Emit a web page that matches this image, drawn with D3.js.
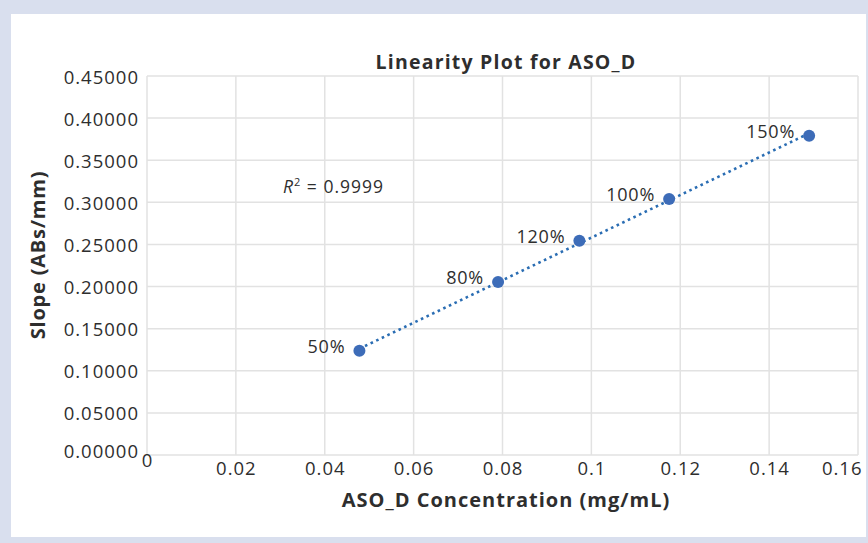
<!DOCTYPE html>
<html>
<head>
<meta charset="utf-8">
<script src="https://cdn.jsdelivr.net/npm/d3@7"></script>
<style>
  html, body { margin: 0; padding: 0; background: #d9dfee; }
  svg { display: block; }
</style>
</head>
<body>
<div id="chart"></div>
<script>
// data
const concentrations = [0.0478, 0.0790, 0.0973, 0.1175, 0.1490];
const slopes = [0.1238, 0.2054, 0.2545, 0.3040, 0.3791];
const pointLabels = ["50%", "80%", "120%", "100%", "150%"];
const xTicks = [0, 0.02, 0.04, 0.06, 0.08, 0.1, 0.12, 0.14, 0.16];
const yTicks = [0, 0.05, 0.1, 0.15, 0.2, 0.25, 0.3, 0.35, 0.4, 0.45];
const rSquared = "0.9999";

const width = 868, height = 543;
const margin = { top: 76, right: 10, bottom: 88, left: 147 };
const plotW = 858 - margin.left;
const plotH = 455 - margin.top;
const font = "'Open Sans', sans-serif";
const ink = "#2e2e2e";

const svg = d3.select("#chart").append("svg")
  .attr("width", width)
  .attr("height", height);

// white panel
svg.append("rect")
  .attr("x", 11).attr("y", 14)
  .attr("width", 855).attr("height", 523)
  .attr("fill", "#ffffff");

const x = d3.scaleLinear().domain([0, 0.16]).range([0, plotW]);
const y = d3.scaleLinear().domain([0, 0.45]).range([plotH, 0]);

const g = svg.append("g")
  .attr("transform", "translate(" + margin.left + "," + margin.top + ")");

// grid
g.append("g").selectAll("line").data(xTicks).join("line")
  .attr("x1", d => x(d)).attr("x2", d => x(d))
  .attr("y1", 0).attr("y2", plotH)
  .attr("stroke", "#e2e2e2").attr("stroke-width", 1.5);
g.append("g").selectAll("line").data(yTicks).join("line")
  .attr("x1", 0).attr("x2", plotW)
  .attr("y1", d => y(d)).attr("y2", d => y(d))
  .attr("stroke", "#e2e2e2").attr("stroke-width", 1.5);

// axes (labels only)
const xAxis = g.append("g")
  .attr("transform", "translate(0," + plotH + ")")
  .call(d3.axisBottom(x).tickValues(xTicks).tickSize(0).tickPadding(7)
    .tickFormat(d => d3.format("")(+d.toFixed(2))));
xAxis.select(".domain").remove();
xAxis.selectAll("text")
  .attr("font-family", font).attr("font-size", 18.5).attr("fill", ink)
  .attr("letter-spacing", 1)
  .attr("dy", (d, i) => i === 0 ? "0.25em" : "0.71em");
// last label pulled in so it stays on the panel, like the original
xAxis.selectAll("text").filter((d, i) => i === xTicks.length - 1)
  .attr("text-anchor", "end").attr("x", 4);

const yAxis = g.append("g")
  .call(d3.axisLeft(y).tickValues(yTicks).tickSize(0).tickPadding(8)
    .tickFormat(d3.format(".5f")));
yAxis.select(".domain").remove();
yAxis.selectAll("text")
  .attr("font-family", font).attr("font-size", 18.5).attr("fill", ink)
  .attr("letter-spacing", 1)
  .attr("dy", (d, i) => i === 0 ? "0.15em" : "0.38em");

// trendline, least squares fit
const mx = d3.mean(concentrations), my = d3.mean(slopes);
const slope = d3.sum(concentrations, (c, i) => (c - mx) * (slopes[i] - my)) /
  d3.sum(concentrations, c => (c - mx) * (c - mx));
const icpt = my - slope * mx;
const xMin = d3.min(concentrations), xMax = d3.max(concentrations);
g.append("line")
  .attr("x1", x(xMin)).attr("y1", y(icpt + slope * xMin))
  .attr("x2", x(xMax)).attr("y2", y(icpt + slope * xMax))
  .attr("stroke", "#2a6db3")
  .attr("stroke-width", 2.6)
  .attr("stroke-dasharray", "2.6,3.6");

// points
const pts = concentrations.map((c, i) => ({ x: c, y: slopes[i], label: pointLabels[i] }));
g.selectAll("circle.pt").data(pts).join("circle")
  .attr("class", "pt")
  .attr("cx", d => x(d.x)).attr("cy", d => y(d.y))
  .attr("r", 6)
  .attr("fill", "#3d6cb8");

g.selectAll("text.lbl").data(pts).join("text")
  .attr("class", "lbl")
  .attr("x", d => x(d.x) - 14).attr("y", d => y(d.y) - 4)
  .attr("dy", "0.35em")
  .attr("text-anchor", "end")
  .attr("font-family", font).attr("font-size", 18).attr("fill", ink)
  .attr("letter-spacing", 0.8)
  .text(d => d.label);

// R squared
const r2 = svg.append("text")
  .attr("x", 283).attr("y", 193)
  .attr("font-family", font).attr("font-size", 17.5).attr("fill", ink)
  .attr("letter-spacing", 1);
r2.append("tspan").attr("font-style", "italic").text("R");
r2.append("tspan").attr("font-size", 11).attr("dy", -7).text("2");
r2.append("tspan").attr("dy", 7).text(" = " + rSquared);

// title
svg.append("text")
  .attr("x", 506).attr("y", 69)
  .attr("text-anchor", "middle")
  .attr("font-family", font).attr("font-size", 19.5).attr("font-weight", "bold")
  .attr("letter-spacing", 1.2)
  .attr("fill", ink)
  .text("Linearity Plot for ASO_D");

// axis titles
svg.append("text")
  .attr("x", 506).attr("y", 507)
  .attr("text-anchor", "middle")
  .attr("font-family", font).attr("font-size", 20).attr("font-weight", "bold")
  .attr("letter-spacing", 1)
  .attr("fill", ink)
  .text("ASO_D Concentration (mg/mL)");

svg.append("text")
  .attr("transform", "translate(45,255) rotate(-90)")
  .attr("text-anchor", "middle")
  .attr("font-family", font).attr("font-size", 20).attr("font-weight", "bold")
  .attr("letter-spacing", 0.8)
  .attr("fill", ink)
  .text("Slope (ABs/mm)");
</script>
</body>
</html>
